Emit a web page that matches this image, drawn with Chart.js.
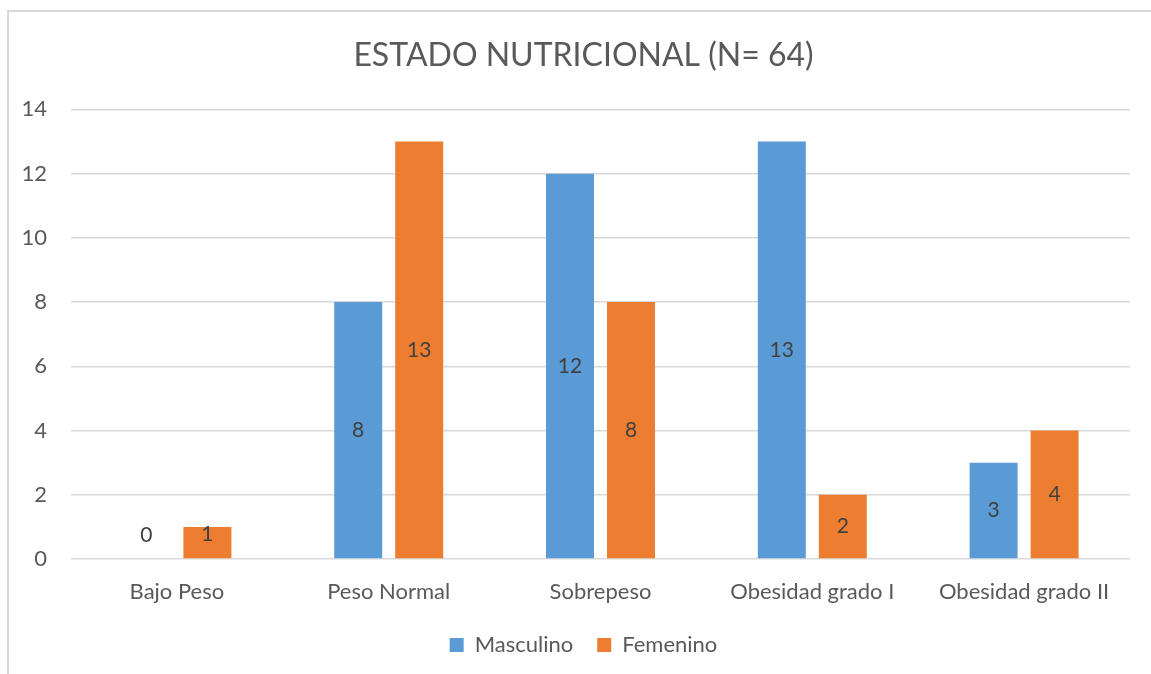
<!DOCTYPE html>
<html lang="es">
<head>
    <meta charset="UTF-8">
    <title>Estado nutricional</title>
    <script src="https://cdn.jsdelivr.net/npm/chart.js"></script>
    <style>
        body { margin: 0; background: #fff; overflow: hidden; }
        #frame { position: absolute; left: 7px; top: 10px; width: 1200px; height: 700px; border-left: 2px solid #d9d9d9; border-top: 2px solid #d9d9d9; box-sizing: border-box; }
        #wrap { position: absolute; left: 7px; top: 10px; width: 1153px; height: 680px; }
    </style>
</head>
<body>
    <div id="frame"></div>
    <div id="wrap"><canvas id="chart"></canvas></div>
    <script>
        // data
        const categories = ['Bajo Peso', 'Peso Normal', 'Sobrepeso', 'Obesidad grado I', 'Obesidad grado II'];
        const masculino = [0, 8, 12, 13, 3];
        const femenino = [1, 13, 8, 2, 4];
        const yTicks = [0, 2, 4, 6, 8, 10, 12, 14];

        const textColor = '#595959';
        const fontName = 'Lato, "Open Sans", sans-serif';

        // value labels in the middle of each bar
        const barLabels = {
            id: 'barLabels',
            afterDatasetsDraw(chart) {
                const ctx = chart.ctx;
                ctx.save();
                ctx.font = '21px ' + fontName;
                ctx.fillStyle = '#404040';
                ctx.textAlign = 'center';
                ctx.textBaseline = 'middle';
                chart.data.datasets.forEach((ds, i) => {
                    chart.getDatasetMeta(i).data.forEach((bar, j) => {
                        let y = Math.min((bar.y + bar.base) / 2, bar.base - 24);
                        ctx.fillText(String(ds.data[j]), bar.x, y);
                    });
                });
                ctx.restore();
            }
        };

        new Chart(document.getElementById('chart'), {
            type: 'bar',
            data: {
                labels: categories,
                datasets: [
                    { label: 'Masculino', data: masculino, backgroundColor: '#5B9BD5' },
                    { label: 'Femenino', data: femenino, backgroundColor: '#ED7D31' }
                ]
            },
            options: {
                responsive: true,
                maintainAspectRatio: false,
                animation: false,
                categoryPercentage: 0.576,
                barPercentage: 0.787,
                layout: { padding: { left: 0, right: 0, top: 0, bottom: 24 } },
                plugins: {
                    title: {
                        display: true,
                        text: 'ESTADO NUTRICIONAL (N= 64)',
                        color: textColor,
                        font: { family: fontName, size: 32, weight: 'normal' },
                        padding: { top: 26, bottom: 35 }
                    },
                    legend: {
                        position: 'bottom',
                        labels: {
                            color: textColor,
                            font: { family: fontName, size: 22 },
                            boxWidth: 14,
                            boxHeight: 14,
                            padding: 24
                        }
                    },
                    tooltip: { enabled: false }
                },
                scales: {
                    x: {
                        grid: { display: false },
                        border: { display: false },
                        ticks: { color: textColor, font: { family: fontName, size: 22 }, padding: 12, maxRotation: 0 },
                        afterFit(scale) { scale.height = 51; }
                    },
                    y: {
                        min: 0,
                        max: 14,
                        afterBuildTicks(scale) { scale.ticks = yTicks.map(v => ({ value: v })); },
                        grid: { color: '#d9d9d9', lineWidth: 1.5, drawTicks: false },
                        border: { display: false },
                        ticks: { color: textColor, font: { family: fontName, size: 22 }, padding: 24 },
                        afterFit(scale) { scale.width = 64; }
                    },
                    // empty right margin so title and legend stay centred on the whole frame
                    spacer: {
                        type: 'linear',
                        position: 'right',
                        grid: { display: false },
                        border: { display: false },
                        ticks: { display: false },
                        afterFit(scale) { scale.width = 30; }
                    }
                }
            },
            plugins: [barLabels]
        });
    </script>
</body>
</html>
